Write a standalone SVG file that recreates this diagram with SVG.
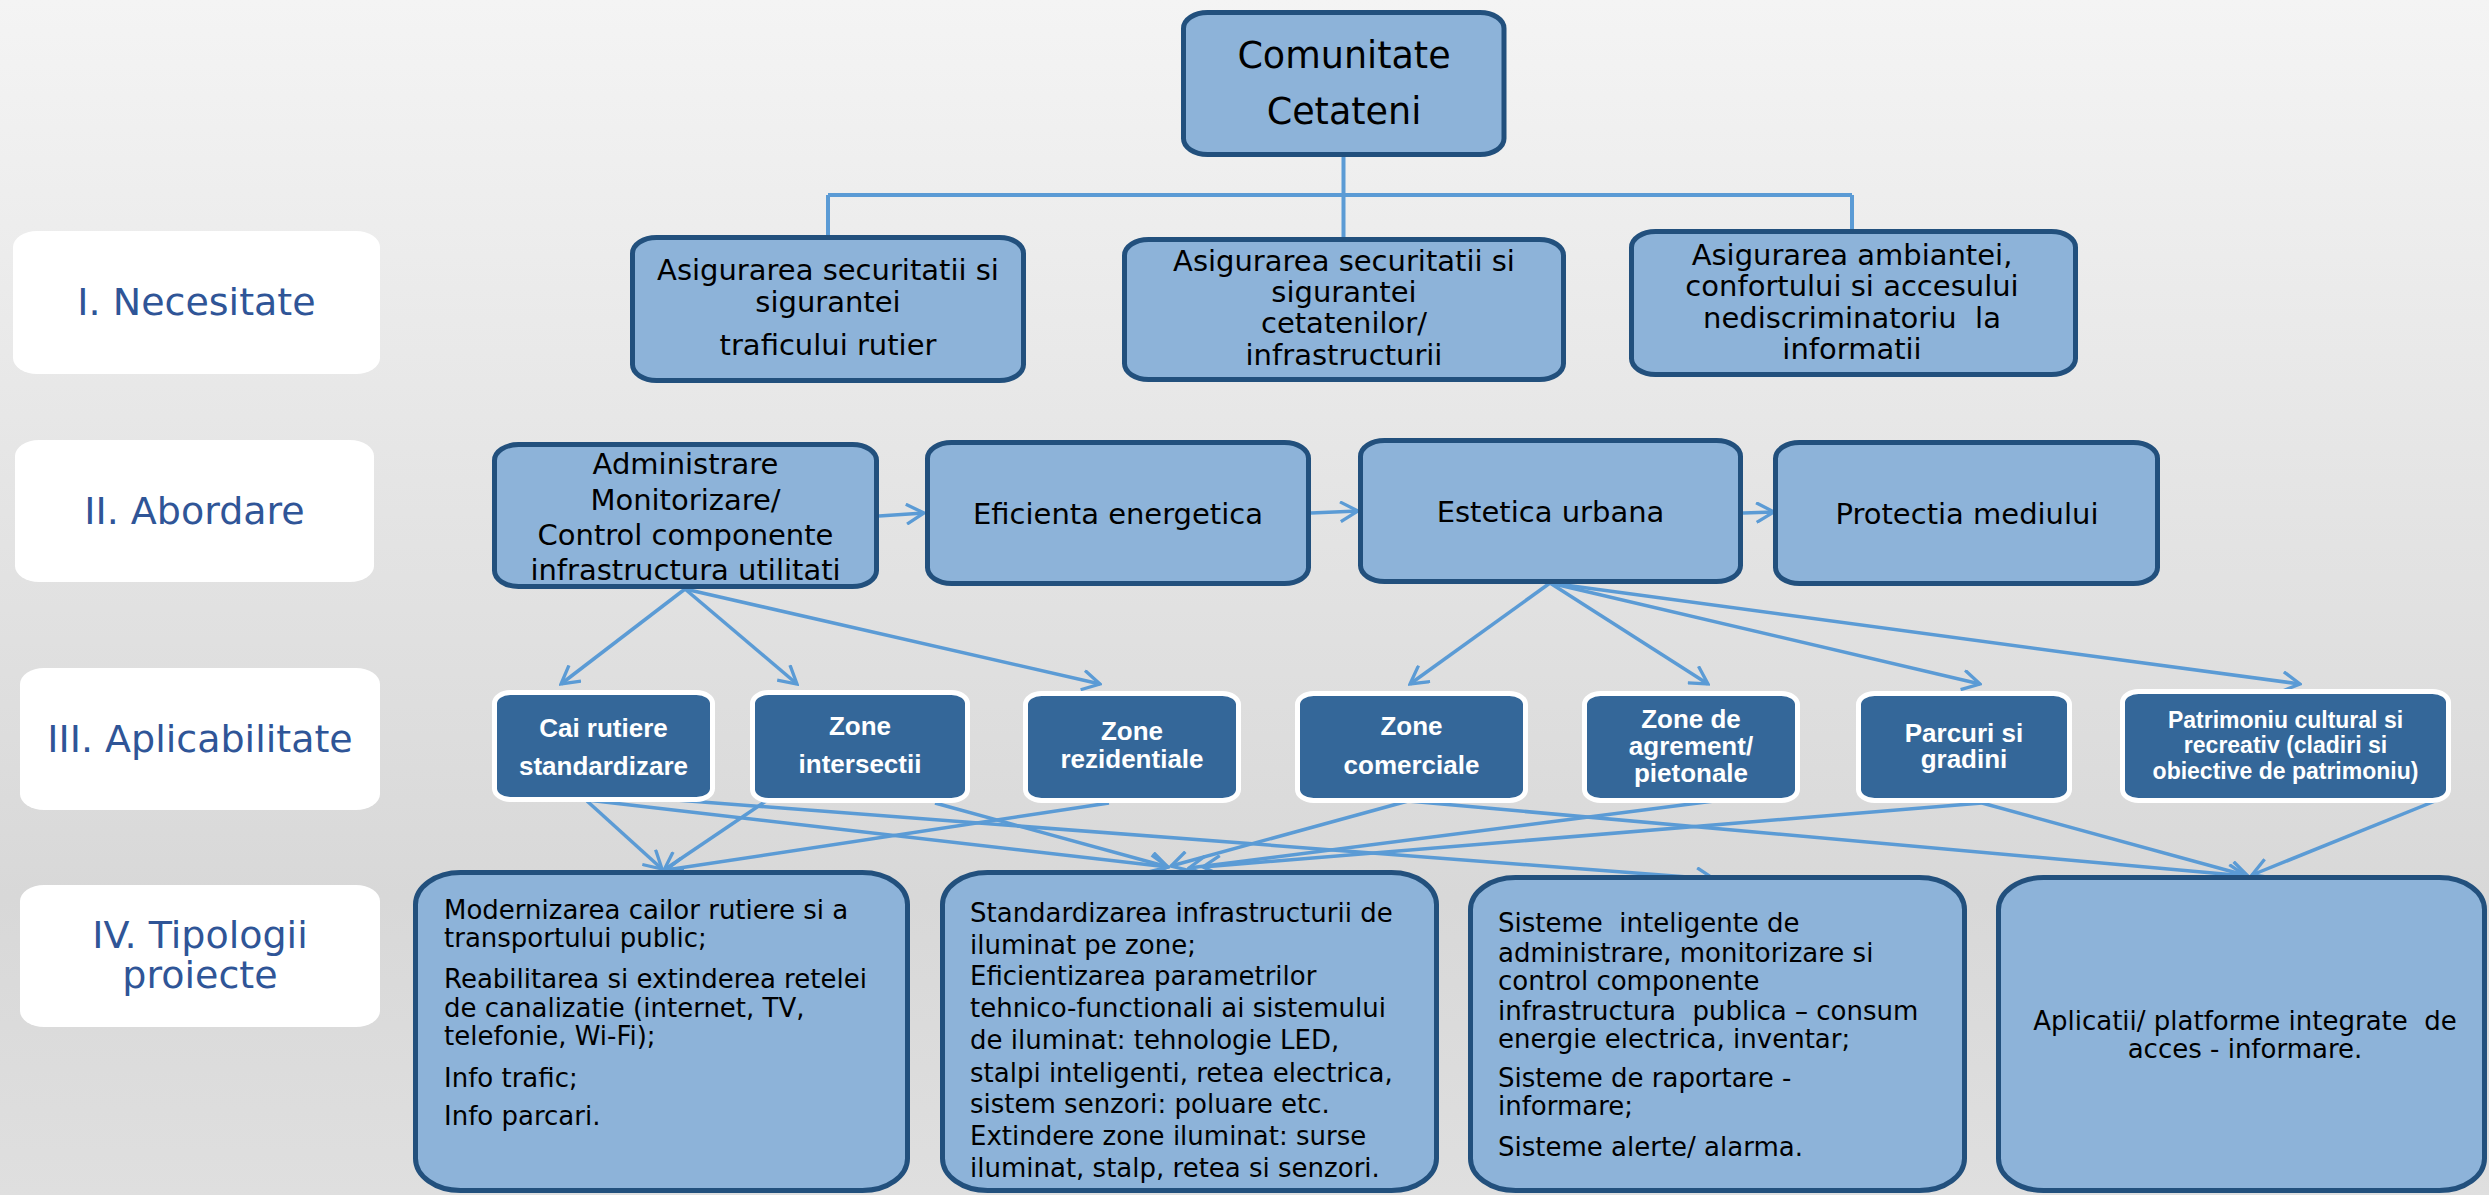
<svg xmlns="http://www.w3.org/2000/svg" width="2489" height="1195" viewBox="0 0 2489 1195">
<defs>
<linearGradient id="bg" x1="0" y1="0" x2="0" y2="1">
<stop offset="0" stop-color="#f4f4f4"/>
<stop offset="0.75" stop-color="#d8d8d8"/>
<stop offset="1" stop-color="#dfdfdf"/>
</linearGradient>
<marker id="ah" viewBox="0 0 20 20" refX="18" refY="10" markerWidth="22" markerHeight="22" markerUnits="userSpaceOnUse" orient="auto">
<path d="M2,1 L18,10 L2,19" fill="none" stroke="#5b9bd5" stroke-width="3"/>
</marker>
<style>
.lblbox{fill:#ffffff}
.lbl{font-family:"DejaVu Sans",Verdana,sans-serif;font-size:38px;fill:#2f5597;text-anchor:middle}
.nb{fill:#8db3d9;stroke:#22507d;stroke-width:5}
.ab{fill:#346799;stroke:#ffffff;stroke-width:5}
.t1{font-family:"DejaVu Sans",Verdana,sans-serif;font-size:29px;fill:#000;text-anchor:middle}
.t0{font-family:"DejaVu Sans",Verdana,sans-serif;font-size:36.5px;fill:#000;text-anchor:middle}
.t3{font-family:"Liberation Sans",Arial,sans-serif;font-weight:bold;font-size:26px;fill:#fff;text-anchor:middle}
.t3s{font-family:"Liberation Sans",Arial,sans-serif;font-weight:bold;font-size:23px;fill:#fff;text-anchor:middle}
.t4{font-family:"DejaVu Sans",Verdana,sans-serif;font-size:26px;fill:#000}
.t4c{font-family:"DejaVu Sans",Verdana,sans-serif;font-size:26px;fill:#000;text-anchor:middle}
.tree{fill:none;stroke:#5b9bd5;stroke-width:4}
.arr{fill:none;stroke:#5b9bd5;stroke-width:3.5;marker-end:url(#ah)}
</style>
</defs>
<rect x="0" y="0" width="2489" height="1195" fill="url(#bg)"/>

<!-- row labels -->
<g id="label-necesitate"><rect class="lblbox" x="13" y="231" width="367" height="143" rx="24" ry="16"/><text class="lbl" x="196.5" y="315">I. Necesitate</text></g>
<g id="label-abordare"><rect class="lblbox" x="15" y="440" width="359" height="142" rx="24" ry="16"/><text class="lbl" x="194.5" y="524">II. Abordare</text></g>
<g id="label-aplicabilitate"><rect class="lblbox" x="20" y="668" width="360" height="142" rx="24" ry="16"/><text class="lbl" x="200" y="752">III. Aplicabilitate</text></g>
<g id="label-tipologii"><rect class="lblbox" x="20" y="885" width="360" height="142" rx="24" ry="16"/><text class="lbl" x="200" y="948">IV. Tipologii</text><text class="lbl" x="200" y="988">proiecte</text></g>

<!-- connectors -->
<g id="connectors">
<path class="tree" d="M1343.5,157 V237 M828,195 H1852 M828,195 V235 M1852,195 V229"/>
<path class="arr" d="M879,516 L924,513"/>
<path class="arr" d="M1311,513 L1358,511"/>
<path class="arr" d="M1743,513 L1774,512"/>
<path class="arr" d="M685,589 L561,684"/>
<path class="arr" d="M685,589 L797,684"/>
<path class="arr" d="M685,589 L1100,684"/>
<path class="arr" d="M1550,583 L1410,684"/>
<path class="arr" d="M1550,583 L1708,684"/>
<path class="arr" d="M1550,583 L1980,684"/>
<path class="arr" d="M1550,583 L2300,684"/>
<path class="arr" d="M587,801 L662,869"/>
<path class="arr" d="M587,800 L1168,867"/>
<path class="arr" d="M676,800 L1714,879"/>
<path class="arr" d="M772,797 L664,870"/>
<path class="arr" d="M935,803 L1168,867"/>
<path class="arr" d="M1109,803 L666,870"/>
<path class="arr" d="M1408,801 L1171,866"/>
<path class="arr" d="M1408,801 L2246,876"/>
<path class="arr" d="M1714,801 L1189,868"/>
<path class="arr" d="M1982,803 L1203,867"/>
<path class="arr" d="M1982,803 L2248,876"/>
<path class="arr" d="M2445,797 L2252,875"/>
</g>

<!-- top -->
<g id="comunitate"><rect class="nb" x="1183.5" y="12.5" width="320.5" height="142" rx="24" ry="16"/><text class="t0" x="1344" y="68">Comunitate</text><text class="t0" x="1344" y="124">Cetateni</text></g>

<!-- row I -->
<g id="nec-trafic"><rect class="nb" x="632.5" y="237.5" width="391" height="143" rx="24" ry="16"/>
<text class="t1" x="828" y="280">Asigurarea securitatii si</text><text class="t1" x="828" y="312">sigurantei</text><text class="t1" x="828" y="355">traficului rutier</text></g>
<g id="nec-cetateni"><rect class="nb" x="1124.5" y="239.5" width="439" height="140" rx="24" ry="16"/>
<text class="t1" x="1344" y="271">Asigurarea securitatii si</text><text class="t1" x="1344" y="302">sigurantei</text><text class="t1" x="1344" y="333">cetatenilor/</text><text class="t1" x="1344" y="365">infrastructurii</text></g>
<g id="nec-ambianta"><rect class="nb" x="1631.5" y="231.5" width="444" height="143" rx="24" ry="16"/>
<text class="t1" x="1852" y="265">Asigurarea ambiantei,</text><text class="t1" x="1852" y="296">confortului si accesului</text><text class="t1" x="1852" y="328" xml:space="preserve">nediscriminatoriu  la</text><text class="t1" x="1852" y="359">informatii</text></g>

<!-- row II -->
<g id="ab-administrare"><rect class="nb" x="494.5" y="444.5" width="382" height="142" rx="24" ry="16"/>
<text class="t1" x="685.5" y="474">Administrare</text><text class="t1" x="685.5" y="510">Monitorizare/</text><text class="t1" x="685.5" y="545">Control componente</text><text class="t1" x="685.5" y="580">infrastructura utilitati</text></g>
<g id="ab-eficienta"><rect class="nb" x="927.5" y="442.5" width="381" height="141" rx="24" ry="16"/><text class="t1" x="1118" y="524">Eficienta energetica</text></g>
<g id="ab-estetica"><rect class="nb" x="1360.5" y="440.5" width="380" height="141" rx="24" ry="16"/><text class="t1" x="1550.5" y="522">Estetica urbana</text></g>
<g id="ab-protectia"><rect class="nb" x="1775.5" y="442.5" width="382" height="141" rx="24" ry="16"/><text class="t1" x="1967" y="524">Protectia mediului</text></g>

<!-- row III -->
<g id="ap-cai"><rect class="ab" x="494.5" y="692.5" width="218" height="107" rx="16" ry="11"/><text class="t3" x="603.5" y="737">Cai rutiere</text><text class="t3" x="603.5" y="775">standardizare</text></g>
<g id="ap-intersectii"><rect class="ab" x="752.5" y="692.5" width="215" height="108" rx="16" ry="11"/><text class="t3" x="860" y="735">Zone</text><text class="t3" x="860" y="773">intersectii</text></g>
<g id="ap-rezidentiale"><rect class="ab" x="1025.5" y="693.5" width="213" height="107" rx="16" ry="11"/><text class="t3" x="1132" y="740">Zone</text><text class="t3" x="1132" y="768">rezidentiale</text></g>
<g id="ap-comerciale"><rect class="ab" x="1297.5" y="693.5" width="228" height="107" rx="16" ry="11"/><text class="t3" x="1411.5" y="735">Zone</text><text class="t3" x="1411.5" y="774">comerciale</text></g>
<g id="ap-agrement"><rect class="ab" x="1584.5" y="693.5" width="213" height="107" rx="16" ry="11"/><text class="t3" x="1691" y="728">Zone de</text><text class="t3" x="1691" y="755">agrement/</text><text class="t3" x="1691" y="782">pietonale</text></g>
<g id="ap-parcuri"><rect class="ab" x="1858.5" y="693.5" width="211" height="107" rx="16" ry="11"/><text class="t3" x="1964" y="742">Parcuri si</text><text class="t3" x="1964" y="768">gradini</text></g>
<g id="ap-patrimoniu"><rect class="ab" x="2122.5" y="691.5" width="326" height="109" rx="16" ry="11"/><text class="t3s" x="2285.5" y="728">Patrimoniu cultural si</text><text class="t3s" x="2285.5" y="753">recreativ (cladiri si</text><text class="t3s" x="2285.5" y="779">obiective de patrimoniu)</text></g>

<!-- row IV -->
<g id="tp-modernizare"><rect class="nb" x="415.5" y="872.5" width="492" height="318" rx="45" ry="32"/>
<text class="t4" x="444" y="919">Modernizarea cailor rutiere si a</text>
<text class="t4" x="444" y="947">transportului public;</text>
<text class="t4" x="444" y="988">Reabilitarea si extinderea retelei</text>
<text class="t4" x="444" y="1017">de canalizatie (internet, TV,</text>
<text class="t4" x="444" y="1045">telefonie, Wi-Fi);</text>
<text class="t4" x="444" y="1087">Info trafic;</text>
<text class="t4" x="444" y="1125">Info parcari.</text></g>
<g id="tp-iluminat"><rect class="nb" x="942.5" y="872.5" width="494" height="318" rx="45" ry="32"/>
<text class="t4" x="970" y="922">Standardizarea infrastructurii de</text>
<text class="t4" x="970" y="954">iluminat pe zone;</text>
<text class="t4" x="970" y="985">Eficientizarea parametrilor</text>
<text class="t4" x="970" y="1017">tehnico-functionali ai sistemului</text>
<text class="t4" x="970" y="1049">de iluminat: tehnologie LED,</text>
<text class="t4" x="970" y="1082">stalpi inteligenti, retea electrica,</text>
<text class="t4" x="970" y="1113">sistem senzori: poluare etc.</text>
<text class="t4" x="970" y="1145">Extindere zone iluminat: surse</text>
<text class="t4" x="970" y="1177">iluminat, stalp, retea si senzori.</text></g>
<g id="tp-sisteme"><rect class="nb" x="1470.5" y="877.5" width="494" height="313" rx="45" ry="32"/>
<text class="t4" x="1498" y="932" xml:space="preserve">Sisteme  inteligente de</text>
<text class="t4" x="1498" y="962">administrare, monitorizare si</text>
<text class="t4" x="1498" y="990">control componente</text>
<text class="t4" x="1498" y="1020" xml:space="preserve">infrastructura  publica – consum</text>
<text class="t4" x="1498" y="1048">energie electrica, inventar;</text>
<text class="t4" x="1498" y="1087">Sisteme de raportare -</text>
<text class="t4" x="1498" y="1115">informare;</text>
<text class="t4" x="1498" y="1156">Sisteme alerte/ alarma.</text></g>
<g id="tp-aplicatii"><rect class="nb" x="1998.5" y="877.5" width="486" height="313" rx="45" ry="32"/>
<text class="t4c" x="2245" y="1030" xml:space="preserve">Aplicatii/ platforme integrate  de</text>
<text class="t4c" x="2245" y="1058">acces - informare.</text></g>
</svg>
